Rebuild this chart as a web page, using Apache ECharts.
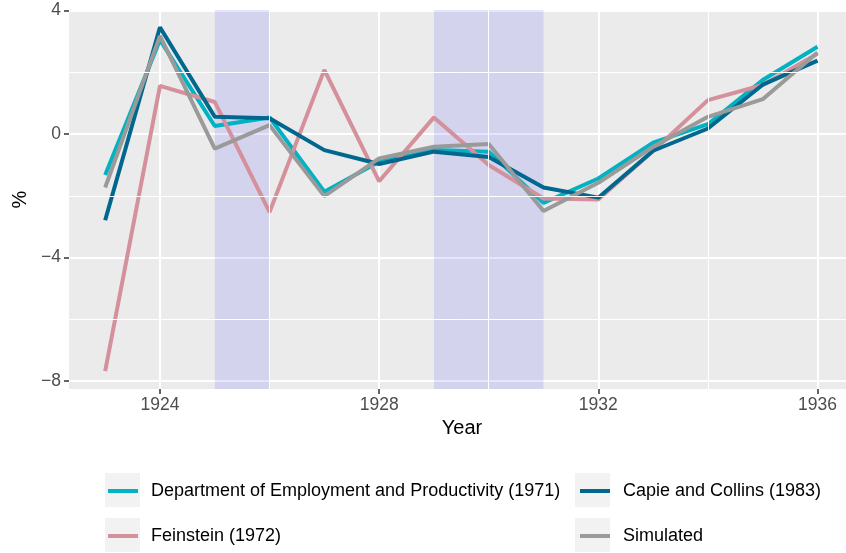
<!DOCTYPE html>
<html>
<head>
<meta charset="utf-8">
<script src="https://cdn.jsdelivr.net/npm/echarts@6/dist/echarts.min.js"></script>
<style>
  html, body { margin: 0; padding: 0; background: #fff; }
  #chart { width: 846px; height: 553px; }
</style>
</head>
<body>
<div id="chart"></div>
<script>
var years = [1923, 1924, 1925, 1926, 1927, 1928, 1929, 1930, 1931, 1932, 1933, 1934, 1935, 1936];
var dep = [-1.33, 3.05, 0.26, 0.54, -1.87, -0.9, -0.52, -0.57, -2.23, -1.44, -0.28, 0.32, 1.75, 2.83];
var feinstein = [-7.68, 1.56, 1.04, -2.53, 2.08, -1.53, 0.54, -1.0, -2.09, -2.12, -0.55, 1.1, 1.59, 2.6];
var capie = [-2.79, 3.46, 0.56, 0.51, -0.52, -0.97, -0.57, -0.74, -1.73, -2.06, -0.54, 0.18, 1.6, 2.38];
var simulated = [-1.73, 3.18, -0.47, 0.29, -2.01, -0.79, -0.41, -0.32, -2.49, -1.58, -0.41, 0.56, 1.13, 2.64];

var xTicks = [1924, 1928, 1932, 1936];
var yTicks = [-8, -4, 0, 4];
var xMinor = [1926, 1930, 1934];
var yMinor = [-6, -2, 2];
var recessions = [[1925, 1926], [1929, 1931]];

var names = [
  "Department of Employment and Productivity (1971)",
  "Feinstein (1972)",
  "Capie and Collins (1983)",
  "Simulated"
];
var colors = ["#00b2c2", "#d4919b", "#00678e", "#9a9a9a"];
var values = [dep, feinstein, capie, simulated];

var font = "'Liberation Sans', Arial, sans-serif";

function pairs(v) {
  return years.map(function (y, i) { return [y, v[i]]; });
}

var chart = echarts.init(document.getElementById("chart"));

var series = values.map(function (v, i) {
  return {
    name: names[i],
    type: "line",
    data: pairs(v),
    symbol: "none",
    color: colors[i],
    lineStyle: { width: 4, color: colors[i] },
    z: 3
  };
});

// minor grid lines
series.unshift({
  type: "line",
  data: [],
  silent: true,
  z: 1,
  markLine: {
    silent: true,
    symbol: "none",
    label: { show: false },
    lineStyle: { color: "#ffffff", width: 1, type: "solid" },
    data: xMinor.map(function (x) { return { xAxis: x }; })
      .concat(yMinor.map(function (y) { return { yAxis: y }; }))
  }
});

// shaded periods, drawn over the lines
series.push({
  type: "line",
  data: [],
  silent: true,
  z: 6,
  markArea: {
    silent: true,
    itemStyle: { color: "rgba(0,0,255,0.1)" },
    data: recessions.map(function (r) { return [{ xAxis: r[0] }, { xAxis: r[1] }]; })
  }
});

function legendAt(name, left, top) {
  return {
    data: [name],
    left: left,
    top: top,
    padding: 0,
    icon: "rect",
    itemWidth: 30,
    itemHeight: 4,
    selectedMode: false,
    textStyle: { fontFamily: font, fontSize: 18, color: "#000", lineHeight: 20, padding: [0, 0, 0, 8] }
  };
}

chart.setOption({
  animation: false,
  backgroundColor: "#ffffff",
  grid: {
    left: 69, right: 0, top: 10, bottom: 164,
    show: true, backgroundColor: "#ebebeb", borderWidth: 0
  },
  xAxis: {
    type: "value",
    min: 1922.34,
    max: 1936.52,
    name: "Year",
    nameLocation: "middle",
    nameGap: 29,
    nameTextStyle: { fontFamily: font, fontSize: 20, color: "#000", padding: [0, 0, 0, 9] },
    axisLine: { show: false, onZero: false },
    axisTick: { show: true, length: 5, customValues: xTicks, lineStyle: { color: "#333", width: 1.5 } },
    axisLabel: {
      customValues: xTicks, margin: 7, fontFamily: font, fontSize: 17.5, color: "#4d4d4d",
      formatter: function (v) { return String(v); }
    },
    splitLine: { show: true, lineStyle: { color: "#ffffff", width: 2 } }
  },
  yAxis: {
    type: "value",
    min: -8.26,
    max: 4.02,
    name: "%",
    nameLocation: "middle",
    nameGap: 36,
    nameTextStyle: { fontFamily: font, fontSize: 20, color: "#000" },
    axisLine: { show: false, onZero: false },
    axisTick: { show: true, length: 5, customValues: yTicks, lineStyle: { color: "#333", width: 1.5 } },
    axisLabel: {
      customValues: yTicks, margin: 8, fontFamily: font, fontSize: 17.5, color: "#4d4d4d",
      formatter: function (v) { return v < 0 ? "\u2212" + Math.abs(v) : String(v); }
    },
    splitLine: { show: true, lineStyle: { color: "#ffffff", width: 2 } }
  },
  legend: [
    legendAt(names[0], 108, 481),
    legendAt(names[1], 108, 526),
    legendAt(names[2], 580, 481),
    legendAt(names[3], 580, 526)
  ],
  graphic: [
    { type: "rect", left: 105, top: 473, shape: { width: 35, height: 34 }, style: { fill: "#f2f2f2" }, z: -1 },
    { type: "rect", left: 105, top: 518, shape: { width: 35, height: 34 }, style: { fill: "#f2f2f2" }, z: -1 },
    { type: "rect", left: 575, top: 473, shape: { width: 35, height: 34 }, style: { fill: "#f2f2f2" }, z: -1 },
    { type: "rect", left: 575, top: 518, shape: { width: 35, height: 34 }, style: { fill: "#f2f2f2" }, z: -1 }
  ],
  series: series
});
</script>
</body>
</html>
